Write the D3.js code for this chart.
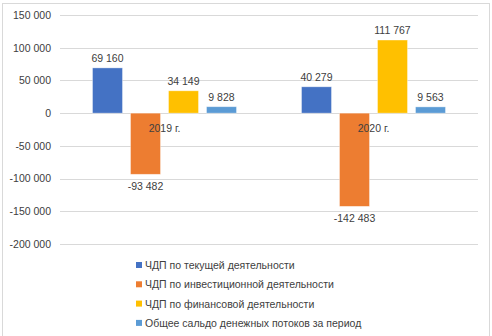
<!DOCTYPE html>
<html><head><meta charset="utf-8">
<script src="https://cdn.jsdelivr.net/npm/d3@7"></script>
<style>
html,body{margin:0;padding:0;background:#fff;}
svg text{font-family:"Liberation Sans",Arial,sans-serif;fill:#404040;}
</style></head>
<body><svg id="c" width="492" height="336"></svg>
<script>
const categories = ["2019 г.", "2020 г."];
const seriesNames = ["ЧДП по текущей деятельности","ЧДП по инвестиционной деятельности","ЧДП по финансовой деятельности","Общее сальдо денежных потоков за период"];
const seriesColors = ["#4472C4","#ED7D31","#FFC000","#5B9BD5"];
const current = [69160, 40279];
const investing = [-93482, -142483];
const financing = [34149, 111767];
const total = [9828, 9563];
const yTicks = [150000,100000,50000,0,-50000,-100000,-150000,-200000];

const seriesVals = [current, investing, financing, total];
const fmt = v => (v<0?"-":"") + d3.format(",")(Math.abs(v)).replace(/,/g," ");

const svg = d3.select("#c");
svg.append("rect").attr("x",2.5).attr("y",3.5).attr("width",487).attr("height",340)
  .attr("fill","#fff").attr("stroke","#d9d9d9");

const y = d3.scaleLinear().domain([-200000,150000]).range([244,15]);
const x0 = d3.scaleBand().domain(categories).range([60,478]).paddingInner(0).paddingOuter(0);

// gridlines
svg.append("g").selectAll("line").data(yTicks).join("line")
  .attr("x1",60).attr("x2",478).attr("y1",d=>Math.round(y(d))+0.5).attr("y2",d=>Math.round(y(d))+0.5)
  .attr("stroke","#d9d9d9").attr("stroke-width",1);

// y axis labels
const yAxis = d3.axisLeft(y).tickValues(yTicks).tickSize(0).tickPadding(0).tickFormat(fmt);
const ga = svg.append("g").attr("transform","translate(51,0)").call(yAxis);
ga.select(".domain").remove();
ga.selectAll("text").attr("font-size","10.5px").attr("fill","#595959").style("font-family","'Liberation Sans',Arial,sans-serif");

const barW = 30, step = 38;
const groups = svg.append("g").selectAll("g").data(categories).join("g");
seriesVals.forEach((vals, si) => {
  const xc = c => x0(c) + x0.bandwidth()/2 + (si-1.5)*step - barW/2;
  svg.append("g").selectAll("rect").data(categories).join("rect")
    .attr("x",(c)=>xc(c)).attr("width",barW)
    .attr("y",(c,i)=>y(Math.max(0,vals[i]))).attr("height",(c,i)=>Math.abs(y(vals[i])-y(0)))
    .attr("fill",seriesColors[si]).attr("stroke","#fff").attr("stroke-opacity",0.5).attr("stroke-width",0.75);
  svg.append("g").selectAll("text").data(categories).join("text")
    .attr("x",c=>xc(c)+barW/2)
    .attr("y",(c,i)=>vals[i]>=0 ? y(vals[i])-6 : y(vals[i])+16)
    .attr("text-anchor","middle").attr("font-size","10.5px")
    .text((c,i)=>fmt(vals[i]));
});

// category labels
svg.append("g").selectAll("text").data(categories).join("text")
  .attr("x",c=>x0(c)+x0.bandwidth()/2).attr("y",y(0)+19)
  .attr("text-anchor","middle").attr("font-size","10.5px").attr("fill","#404040")
  .text(d=>d);

// legend
const lg = svg.append("g").selectAll("g").data(seriesNames).join("g")
  .attr("transform",(d,i)=>`translate(136,${265+i*19.3})`);
lg.append("rect").attr("x",0).attr("y",-3).attr("width",6).attr("height",6).attr("fill",(d,i)=>seriesColors[i]);
lg.append("text").attr("x",9).attr("y",4).attr("font-size","10.5px").attr("fill","#404040").text(d=>d);
</script></body></html>
